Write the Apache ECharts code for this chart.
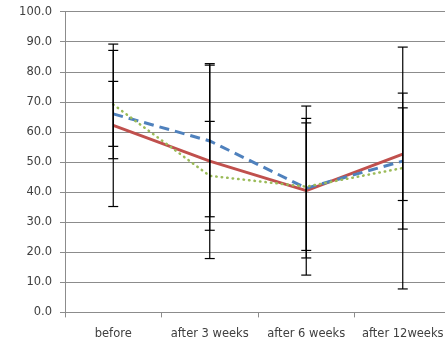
<!DOCTYPE html>
<html>
<head>
<meta charset="utf-8">
<script src="https://cdn.jsdelivr.net/npm/echarts@6/dist/echarts.min.js"></script>
<style>
  html, body { margin: 0; padding: 0; background: #ffffff; }
  #chart { width: 445px; height: 344px; }
</style>
</head>
<body>
<div id="chart"></div>
<script>
// Time points
var categories = ['before', 'after 3 weeks', 'after 6 weeks', 'after 12weeks'];

// Mean scores per group
var seriesRed = [62.2, 50.3, 40.5, 52.6];
var seriesBlue = [66.0, 57.0, 41.3, 50.3];
var seriesGreen = [69.1, 45.4, 41.8, 48.0];

// Standard deviations (half-length of each error bar)
var errRed = [27.0, 32.4, 28.1, 15.4];
var errBlue = [10.8, 25.2, 23.2, 22.6];
var errGreen = [18.0, 18.1, 21.2, 40.2];

// Value axis ticks
var yTicks = [0, 10, 20, 30, 40, 50, 60, 70, 80, 90, 100];

var colRed = '#C0504D', colBlue = '#4F81BD', colGreen = '#9BBB59';
var textColor = '#404040';
var fontFamily = '"DejaVu Sans", Verdana, sans-serif';

function errorData(values, errs) {
  return values.map(function (v, i) { return [i, v - errs[i], v + errs[i]]; });
}

function renderErrorBar(params, api) {
  var x = api.value(0);
  var lo = api.coord([x, api.value(1)]);
  var hi = api.coord([x, api.value(2)]);
  var half = 5;
  var style = { stroke: '#000000', lineWidth: 1.2, fill: null };
  return {
    type: 'group',
    children: [
      { type: 'line', shape: { x1: lo[0], y1: lo[1], x2: hi[0], y2: hi[1] }, style: style },
      { type: 'line', shape: { x1: lo[0] - half, y1: lo[1], x2: lo[0] + half, y2: lo[1] }, style: style },
      { type: 'line', shape: { x1: hi[0] - half, y1: hi[1], x2: hi[0] + half, y2: hi[1] }, style: style }
    ]
  };
}

function errorSeries(values, errs) {
  return {
    type: 'custom',
    renderItem: renderErrorBar,
    data: errorData(values, errs),
    encode: { x: 0, y: [1, 2] },
    z: 5,
    silent: true
  };
}

var chart = echarts.init(document.getElementById('chart'), null, { renderer: 'canvas' });

chart.setOption({
  backgroundColor: '#ffffff',
  animation: false,
  grid: {
    left: 65, right: -6, top: 11.6, bottom: 31.6,
    containLabel: false,
    outerBoundsMode: 'none'
  },
  xAxis: {
    type: 'category',
    data: categories,
    boundaryGap: true,
    axisLine: { lineStyle: { color: '#8c8c8c', width: 1 } },
    axisTick: { show: true, length: 5, lineStyle: { color: '#8c8c8c' } },
    axisLabel: {
      color: textColor, fontSize: 11.5, fontFamily: fontFamily, margin: 16,
      interval: 0
    },
    splitLine: { show: false }
  },
  yAxis: {
    type: 'value',
    min: yTicks[0],
    max: yTicks[yTicks.length - 1],
    interval: 10,
    axisLine: { show: true, lineStyle: { color: '#8c8c8c', width: 1 } },
    axisTick: { show: true, length: 5, lineStyle: { color: '#8c8c8c' } },
    axisLabel: {
      color: textColor, fontSize: 11.5, fontFamily: fontFamily, margin: 13,
      formatter: function (v) { return v.toFixed(1); }
    },
    splitLine: { show: true, lineStyle: { color: '#8c8c8c', width: 1 } }
  },
  series: [
    {
      type: 'line', data: seriesRed, symbol: 'none', z: 3,
      lineStyle: { color: colRed, width: 3 }
    },
    {
      type: 'line', data: seriesBlue, symbol: 'none', z: 3,
      lineStyle: { color: colBlue, width: 3, type: [10, 6] }
    },
    {
      type: 'line', data: seriesGreen, symbol: 'none', z: 3,
      lineStyle: { color: colGreen, width: 2.5, type: [0.5, 5], cap: 'round' }
    },
    errorSeries(seriesRed, errRed),
    errorSeries(seriesBlue, errBlue),
    errorSeries(seriesGreen, errGreen)
  ]
});
</script>
</body>
</html>
